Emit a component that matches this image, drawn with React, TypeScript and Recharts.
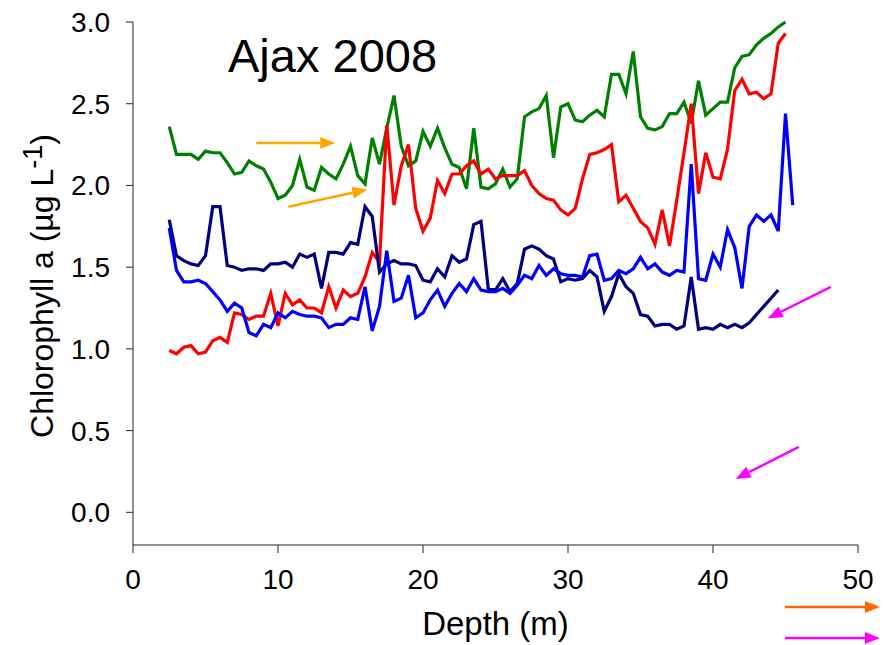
import React from 'react';
import { LineChart, Line, XAxis, YAxis, ReferenceLine } from 'recharts';

const depths = [
  2.5, 3, 3.5, 4, 4.5, 5, 5.5, 6, 6.5, 7, 7.5, 8, 8.5, 9, 9.5, 10, 10.5, 11, 11.5, 12,
  12.5, 13, 13.5, 14, 14.5, 15, 15.5, 16, 16.5, 17, 17.5, 18, 18.5, 19, 19.5, 20, 20.5, 21, 21.5, 22,
  22.5, 23, 23.5, 24, 24.5, 25, 25.5, 26, 26.5, 27, 27.5, 28, 28.5, 29, 29.5, 30, 30.5, 31, 31.5, 32,
  32.5, 33, 33.5, 34, 34.5, 35, 35.5, 36, 36.5, 37, 37.5, 38, 38.5, 39, 39.5, 40, 40.5, 41, 41.5, 42,
  42.5, 43, 43.5, 44, 44.5, 45, 45.5,
];

const greenLine = [
  2.36, 2.19, 2.19, 2.19, 2.16, 2.21, 2.2, 2.2, 2.14, 2.07, 2.08, 2.15, 2.12, 2.1, 2.02, 1.92, 1.94, 2.0, 2.16, 1.99,
  1.97, 2.11, 2.07, 2.04, 2.13, 2.24, 2.06, 2.01, 2.29, 2.13, 2.35, 2.55, 2.24, 2.12, 2.15, 2.33, 2.24, 2.35, 2.23, 2.13,
  2.11, 1.98, 2.35, 1.99, 1.98, 2.01, 2.1, 1.99, 2.04, 2.42, 2.45, 2.47, 2.55, 2.17, 2.48, 2.5, 2.4, 2.39, 2.43, 2.46,
  2.42, 2.68, 2.68, 2.56, 2.82, 2.42, 2.35, 2.34, 2.36, 2.44, 2.44, 2.51, 2.38, 2.64, 2.43, 2.47, 2.51, 2.51, 2.72, 2.79,
  2.8, 2.86, 2.9, 2.93, 2.97, 3.0, null,
];

const redLine = [
  0.99, 0.97, 1.01, 1.02, 0.97, 0.98, 1.05, 1.07, 1.04, 1.22, 1.21, 1.18, 1.2, 1.2, 1.34, 1.14, 1.34, 1.27, 1.3, 1.25,
  1.25, 1.22, 1.38, 1.25, 1.36, 1.32, 1.34, 1.44, 1.59, 1.53, 2.37, 1.88, 2.12, 2.25, 1.86, 1.72, 1.8, 2.03, 1.95, 2.07,
  2.07, 2.12, 2.15, 2.07, 2.1, 2.04, 2.06, 2.06, 2.06, 2.09, 2.0, 1.95, 1.92, 1.91, 1.85, 1.82, 1.86, 2.04, 2.19, 2.2,
  2.22, 2.25, 1.9, 1.94, 1.86, 1.78, 1.74, 1.64, 1.85, 1.63, 1.91, 2.2, 2.5, 1.95, 2.2, 2.05, 2.04, 2.22, 2.58, 2.65,
  2.56, 2.57, 2.53, 2.56, 2.87, 2.93, null,
];

const navyLine = [
  1.79, 1.57, 1.54, 1.52, 1.51, 1.57, 1.87, 1.87, 1.51, 1.5, 1.48, 1.49, 1.49, 1.48, 1.52, 1.52, 1.53, 1.5, 1.58, 1.56,
  1.58, 1.37, 1.59, 1.59, 1.58, 1.65, 1.64, 1.87, 1.81, 1.47, 1.52, 1.54, 1.52, 1.52, 1.51, 1.42, 1.41, 1.49, 1.44, 1.57,
  1.53, 1.55, 1.76, 1.78, 1.37, 1.36, 1.43, 1.35, 1.4, 1.61, 1.63, 1.61, 1.57, 1.55, 1.41, 1.43, 1.42, 1.43, 1.48, 1.44,
  1.23, 1.32, 1.46, 1.38, 1.34, 1.21, 1.2, 1.14, 1.15, 1.15, 1.12, 1.14, 1.44, 1.12, 1.13, 1.12, 1.15, 1.13, 1.15, 1.13,
  1.16, 1.21, 1.26, 1.31, 1.36, null, null,
];

const blueLine = [
  1.74, 1.48, 1.41, 1.41, 1.42, 1.4, 1.35, 1.3, 1.23, 1.28, 1.25, 1.1, 1.08, 1.15, 1.13, 1.22, 1.19, 1.23, 1.21, 1.2,
  1.2, 1.19, 1.13, 1.15, 1.15, 1.19, 1.18, 1.38, 1.11, 1.26, 1.6, 1.29, 1.31, 1.45, 1.19, 1.22, 1.3, 1.36, 1.26, 1.34,
  1.4, 1.35, 1.43, 1.36, 1.35, 1.35, 1.37, 1.34, 1.39, 1.45, 1.43, 1.51, 1.45, 1.49, 1.46, 1.45, 1.45, 1.44, 1.57, 1.58,
  1.42, 1.43, 1.48, 1.46, 1.49, 1.56, 1.49, 1.52, 1.47, 1.45, 1.48, 1.47, 2.13, 1.43, 1.42, 1.58, 1.5, 1.73, 1.62, 1.37,
  1.75, 1.82, 1.78, 1.82, 1.72, 2.44, 1.88,
];

const xTicks = [0, 10, 20, 30, 40, 50];
const yTicks = [0, 0.5, 1, 1.5, 2, 2.5, 3];

// annotation arrows, [fromDepth, fromValue, toDepth, toValue]
const orangeArrows = [
  [8.5, 2.26, 13.95, 2.26],
  [10.72, 1.87, 16.16, 1.975],
];
const magentaArrows = [
  [48.13, 1.38, 43.77, 1.186],
  [45.92, 0.4, 41.56, 0.204],
];

const FONT = '"Liberation Sans", Arial, sans-serif';

const rows = depths.map((d, i) => ({
  depth: d,
  green: greenLine[i],
  red: redLine[i],
  navy: navyLine[i],
  blue: blueLine[i],
}));

const arrowShape = (color: string) => (props: any) => {
  const { x1, y1, x2, y2 } = props;
  const ang = Math.atan2(y2 - y1, x2 - x1);
  const len = 15;
  const half = 6;
  const bx = x2 - len * Math.cos(ang);
  const by = y2 - len * Math.sin(ang);
  const px = -Math.sin(ang) * half;
  const py = Math.cos(ang) * half;
  return (
    <g>
      <line x1={x1} y1={y1} x2={bx} y2={by} stroke={color} strokeWidth={2.5} />
      <polygon points={`${x2},${y2} ${bx + px},${by + py} ${bx - px},${by - py}`} fill={color} />
    </g>
  );
};

const Arrow = ({ x1, y1, x2, y2, color }: any) => arrowShape(color)({ x1, y1, x2, y2 });

export default function App() {
  return (
    <div style={{ position: 'absolute', left: 0, top: 0, width: 885, height: 645, background: '#fff' }}>
      <LineChart
        width={885}
        height={645}
        data={rows}
        margin={{ top: 22, right: 27, bottom: 10, left: 33 }}
        style={{ fontFamily: FONT }}
      >
        <XAxis
          dataKey="depth"
          type="number"
          domain={[0, 50]}
          ticks={xTicks}
          height={90}
          stroke="#222"
          tickSize={8}
          tickMargin={16}
          tick={{ fontSize: 28, fill: '#000' }}
          label={{ value: 'Depth (m)', position: 'insideBottom', offset: 0, fontSize: 33, fill: '#000' }}
        />
        <YAxis
          type="number"
          domain={[-0.2, 3]}
          ticks={yTicks}
          width={100}
          stroke="#222"
          tickSize={7}
          tickMargin={16}
          tickFormatter={(v: number) => v.toFixed(1)}
          tick={{ fontSize: 28, fill: '#000' }}
        />
        <Line dataKey="green" stroke="#008000" strokeWidth={3.2} dot={false} isAnimationActive={false} />
        <Line dataKey="red" stroke="#ff0000" strokeWidth={3.2} dot={false} isAnimationActive={false} />
        <Line dataKey="navy" stroke="#000080" strokeWidth={3.2} dot={false} isAnimationActive={false} />
        <Line dataKey="blue" stroke="#0000ff" strokeWidth={3.2} dot={false} isAnimationActive={false} />
        {orangeArrows.map((a, i) => (
          <ReferenceLine
            key={'o' + i}
            segment={[{ x: a[0], y: a[1] }, { x: a[2], y: a[3] }]}
            ifOverflow="visible"
            shape={arrowShape('#ffa500')}
          />
        ))}
        {magentaArrows.map((a, i) => (
          <ReferenceLine
            key={'m' + i}
            segment={[{ x: a[0], y: a[1] }, { x: a[2], y: a[3] }]}
            ifOverflow="visible"
            shape={arrowShape('#ff00ff')}
          />
        ))}
      </LineChart>
      <svg
        width={885}
        height={645}
        style={{ position: 'absolute', left: 0, top: 0, pointerEvents: 'none', fontFamily: FONT }}
      >
        <text x={228} y={72} fontSize={47} fill="#000">Ajax 2008</text>
        <text transform="translate(53,286) rotate(-90)" textAnchor="middle" fontSize={32} fill="#000">
          Chlorophyll a (µg L<tspan dy={-11} fontSize={27}>-1</tspan><tspan dy={11}>)</tspan>
        </text>
        <Arrow x1={785} y1={607} x2={880} y2={607} color="#ff6600" />
        <Arrow x1={785} y1={638} x2={880} y2={638} color="#ff00ff" />
      </svg>
    </div>
  );
}
